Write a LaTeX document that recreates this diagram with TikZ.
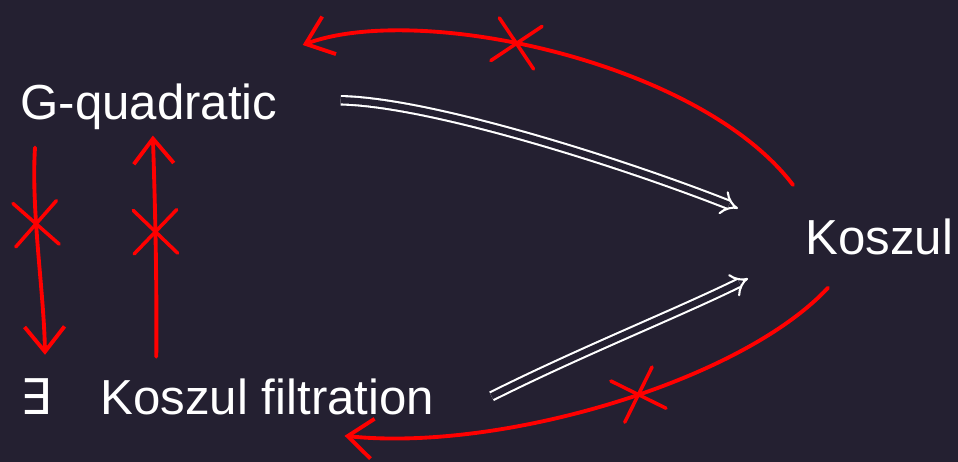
\documentclass[tikz,border=0pt]{standalone}
\usepackage{fontspec}
\setmainfont{Liberation Sans}
\newfontfamily\symbfont{DejaVu Sans}
\usetikzlibrary{arrows.meta,shapes.misc}
\definecolor{board}{RGB}{36,32,49}
\definecolor{penred}{RGB}{255,0,0}
\begin{document}
\begin{tikzpicture}[x=0.02cm,y=0.02cm,
  word/.style={text=white, font=\fontsize{28}{32}\selectfont, inner sep=0pt},
  implies/.style={draw=white, line width=1.2pt, double=board, double distance=3.6pt, -{Implies}},
  fails/.style={draw=penred, line width=2.2pt, line cap=round, -{Straight Barb[length=0.5cm,width=0.8cm]}},
  nope/.style={cross out, draw=penred, line width=2pt, minimum size=0.8cm, inner sep=0pt, sloped}]
\fill[board] (0,0) rectangle (958,462);
\node[word, anchor=base west] (gq) at (20,342) {G-quadratic};
\node[word, anchor=base west] (kz) at (805,207) {Koszul};
\node[word, anchor=base west] (kf) at (20,47) {{\symbfont ∃}\quad Koszul filtration};
\draw[implies] ([shift={(63,7)}]gq.east) .. controls (430,360) and (620,300) .. ([shift={(-67,29)}]kz.west);
\draw[implies] ([shift={(57,1)}]kf.east) .. controls (580,110) and (680,150) .. ([shift={(-57,-41)}]kz.west);
\draw[fails] ([shift={(-12,34)}]kz.north west) .. controls (700,400) and (420,460) .. ([shift={(25,39)}]gq.north east)
  node[nope, pos=0.57] {};
\draw[fails] ([shift={(23,-32)}]kz.south west) .. controls (740,80) and (500,10) .. ([shift={(-90,-20)}]kf.south east)
  node[nope, pos=0.45] {};
\draw[fails] ([shift={(15,-17)}]gq.south west) .. controls (31,250) and (44,170) .. ([shift={(25,24)}]kf.north west)
  node[nope, pos=0.37] {};
\draw[fails] ([shift={(-71,22)}]kf.north) .. controls (157,180) and (155,260) .. ([shift={(4,-5)}]gq.south)
  node[nope, pos=0.55] {};
\end{tikzpicture}
\end{document}
